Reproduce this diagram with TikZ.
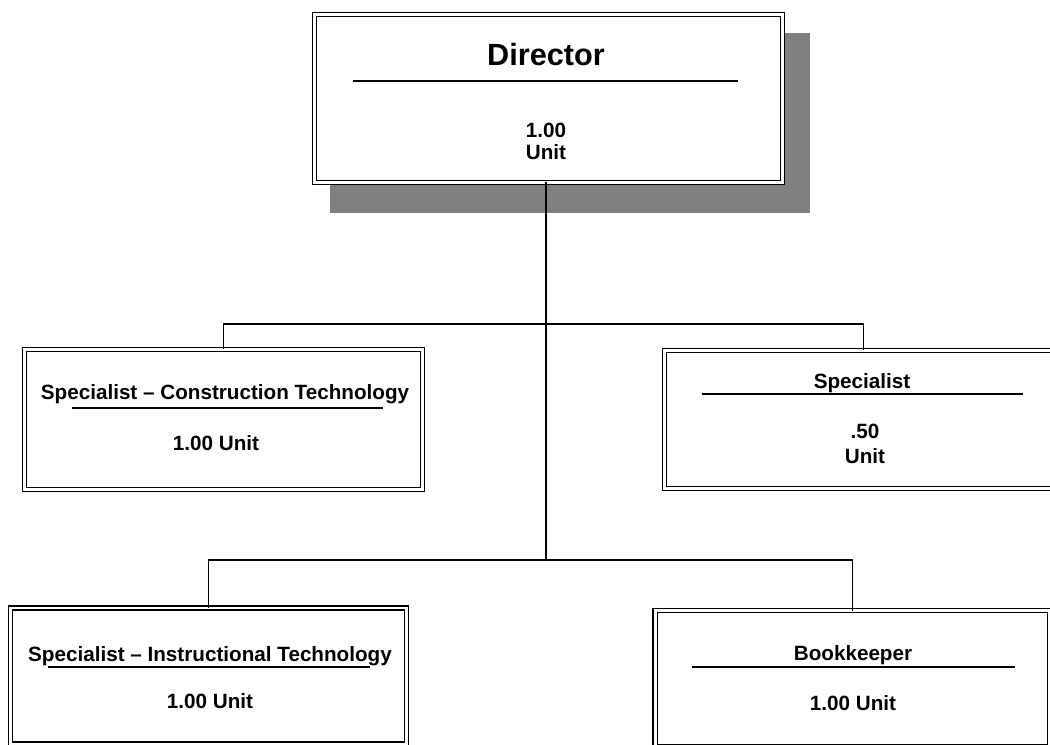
\documentclass[tikz,border=0pt]{standalone}
\usepackage{fontspec}
\setmainfont{Liberation Sans}
\begin{document}
\begin{tikzpicture}[x=0.75pt,y=-0.75pt,
  box/.style={draw=black, line width=1pt, double=white, double distance=2.2pt, fill=white, inner sep=0pt, outer sep=0pt},
  txt/.style={anchor=base, inner sep=0pt, font=\bfseries\fontsize{15.5pt}{18pt}\selectfont},
  bigtxt/.style={anchor=base, inner sep=0pt, font=\bfseries\fontsize{23pt}{27pt}\selectfont},
  sep/.style={line width=1pt},
  conn/.style={line width=1.3pt}]
\clip (0,0) rectangle (1050,745);
\fill[white] (0,0) rectangle (1050,745);
% shadow of the director box
\fill[black!50] (330,33) rectangle (810,213);
% boxes
\node[box, minimum width=351pt, minimum height=126pt] (director) at (548.5,98.5) {};
\node[box, minimum width=298.5pt, minimum height=105pt] (cons) at (223.5,419.5) {};
\node[box, minimum width=298.5pt, minimum height=103.5pt] (spec) at (863.5,419.5) {};
\node[box, minimum width=297pt, minimum height=102pt] (instr) at (208.5,676) {};
\node[box, minimum width=296pt, minimum height=102pt] (book) at (852.5,678.5) {};
% texts
\node[bigtxt] (dirT) at (546,66) {Director};
\draw[sep] (353,81) -- (738,81);
\node[txt] (dirN) at (546,138) {1.00};
\node[txt] (dirU) at (546,160) {Unit};

\node[txt] (consT) at (225,400) {Specialist -- Construction Technology};
\draw[sep] (72,408) -- (383,408);
\node[txt] (consN) at (216,450) {1.00 Unit};

\node[txt] (specT) at (862,388) {Specialist};
\draw[sep] (702,394) -- (1023,394);
\node[txt] (specN) at (865,438) {.50};
\node[txt] (specU) at (865,463) {Unit};

\node[txt] (instrT) at (210,661) {Specialist -- Instructional Technology};
\draw[sep] (48,667) -- (370,667);
\node[txt] (instrN) at (210,708) {1.00 Unit};

\node[txt] (bookT) at (853,660) {Bookkeeper};
\draw[sep] (692,667) -- (1015,667);
\node[txt] (bookN) at (853,710) {1.00 Unit};
% connectors
\coordinate (j1) at (546,324);
\coordinate (j2) at (546,560);
\draw[conn] (director.south -| j1) -- (j2);
\draw[conn] (cons.north) |- (j1) -| (spec.north);
\draw[conn] (instr.north) |- (j2) -| (book.north);
\end{tikzpicture}
\end{document}
